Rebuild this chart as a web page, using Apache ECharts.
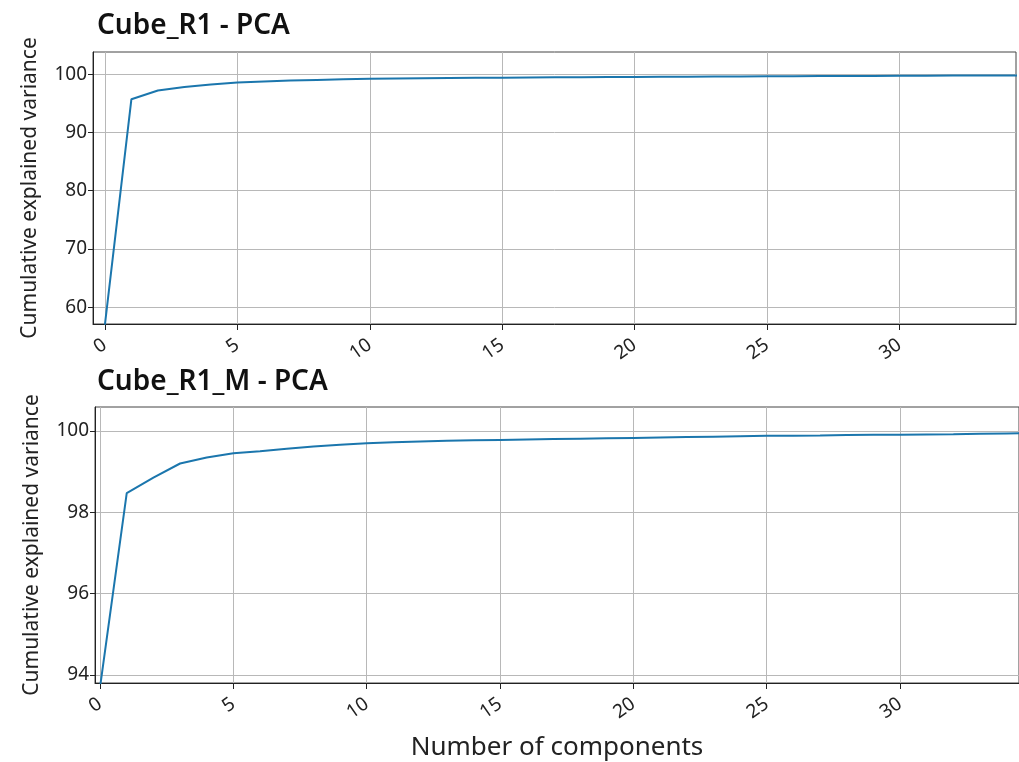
<!DOCTYPE html>
<html>
<head>
<meta charset="utf-8">
<script src="https://cdn.jsdelivr.net/npm/echarts@6/dist/echarts.min.js"></script>
<style>
html,body{margin:0;padding:0;background:#fff;}
#main{width:1019px;height:762px;}
</style>
</head>
<body>
<div id="main"></div>
<script>
// Data
const components = [0,1,2,3,4,5,6,7,8,9,10,11,12,13,14,15,16,17,18,19,20,21,22,23,24,25,26,27,28,29,30,31,32,33,34,35];
const varianceR1 = [57.0, 95.7, 97.2, 97.8, 98.2, 98.55, 98.75, 98.9, 99.0, 99.1, 99.2, 99.25, 99.3, 99.34, 99.37, 99.4, 99.43, 99.46, 99.48, 99.5, 99.52, 99.54, 99.56, 99.58, 99.6, 99.62, 99.64, 99.66, 99.68, 99.7, 99.71, 99.73, 99.75, 99.76, 99.78, 99.79];
const varianceR1M = [93.7, 98.47, 98.85, 99.2, 99.35, 99.45, 99.5, 99.56, 99.62, 99.66, 99.7, 99.72, 99.74, 99.76, 99.77, 99.78, 99.79, 99.8, 99.81, 99.82, 99.83, 99.84, 99.85, 99.86, 99.87, 99.88, 99.885, 99.89, 99.9, 99.905, 99.91, 99.915, 99.92, 99.93, 99.94, 99.945];
const xTicks = [0,5,10,15,20,25,30];
const yTicksR1 = [60,70,80,90,100];
const yTicksR1M = [94,96,98,100];
const titles = ['Cube_R1 - PCA', 'Cube_R1_M - PCA'];
const yName = 'Cumulative explained variance';
const xName = 'Number of components';

const FONT = 'Noto Sans';
const lineColor = '#1b76ad';

function xAxisDef(idx, withName) {
  return {
    type: 'value', gridIndex: idx,
    min: idx ? -0.19 : -0.45, max: idx ? 34.46 : 34.4,
    name: withName ? xName : '', nameLocation: 'middle', nameGap: 52,
    nameTextStyle: {fontFamily: FONT, fontSize: 26, color: '#222'},
    axisLine: {show: true, onZero: false, lineStyle: {color: '#222', width: 1}},
    axisTick: {show: true, length: 6, customValues: xTicks, lineStyle: {color: '#222'}},
    axisLabel: {customValues: xTicks, rotate: 35, fontFamily: FONT, fontSize: 19, color: '#222', margin: 19},
    splitLine: {show: true, customValues: xTicks, lineStyle: {color: '#b8b8b8', width: 1}}
  };
}
function yAxisDef(idx, min, max, ticks) {
  return {
    type: 'value', gridIndex: idx, min: min, max: max,
    name: yName, nameLocation: 'middle', nameGap: 52,
    nameTextStyle: {fontFamily: FONT, fontSize: 21, color: '#222'},
    axisLine: {show: true, onZero: false, lineStyle: {color: '#222', width: 1}},
    axisTick: {show: true, length: 5, customValues: ticks, lineStyle: {color: '#222'}},
    axisLabel: {customValues: ticks, fontFamily: FONT, fontSize: 19, color: '#222', margin: 6},
    splitLine: {show: true, customValues: ticks, lineStyle: {color: '#b8b8b8', width: 1}}
  };
}

const chart = echarts.init(document.getElementById('main'));
chart.setOption({
  backgroundColor: '#fff',
  animation: false,
  title: [
    {text: titles[0], left: 92, top: 7, textStyle: {fontFamily: FONT, fontSize: 28, fontWeight: 600, color: '#111'}},
    {text: titles[1], left: 92, top: 363, textStyle: {fontFamily: FONT, fontSize: 28, fontWeight: 600, color: '#111'}}
  ],
  grid: [
    {left: 93, top: 52, width: 923, height: 272, show: true, borderColor: '#444', borderWidth: 1, backgroundColor: '#fff'},
    {left: 95, top: 407, width: 926, height: 277, show: true, borderColor: '#444', borderWidth: 1, backgroundColor: '#fff'}
  ],
  xAxis: [xAxisDef(0, false), xAxisDef(1, true)],
  yAxis: [yAxisDef(0, 57.1, 103.8, yTicksR1), yAxisDef(1, 93.8, 100.59, yTicksR1M)],
  series: [
    {type: 'line', xAxisIndex: 0, yAxisIndex: 0, data: components.map((c, i) => [c, varianceR1[i]]),
     showSymbol: false, lineStyle: {color: lineColor, width: 2}, itemStyle: {color: lineColor}},
    {type: 'line', xAxisIndex: 1, yAxisIndex: 1, data: components.map((c, i) => [c, varianceR1M[i]]),
     showSymbol: false, lineStyle: {color: lineColor, width: 2}, itemStyle: {color: lineColor}}
  ]
});
</script>
</body>
</html>
